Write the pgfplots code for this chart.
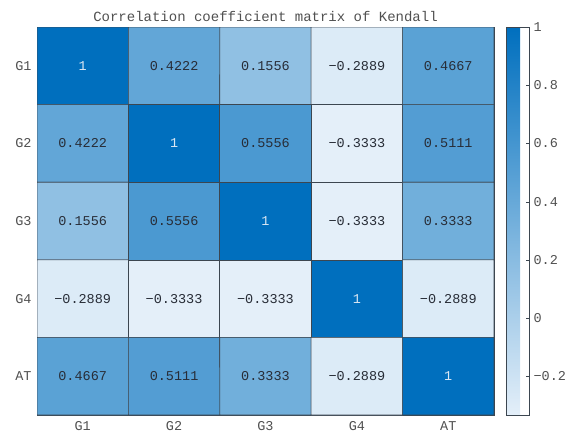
\documentclass[border=0pt]{standalone}
\usepackage{pgfplots}
\pgfplotsset{compat=1.18}
\usepackage{fontspec}
\setmainfont{Liberation Mono}
\definecolor{tickgrey}{RGB}{80,80,80}
\definecolor{cellborder}{RGB}{60,70,80}
\newcommand{\tlfont}{\fontsize{13.5}{15}\selectfont}
\begin{document}
\begin{tikzpicture}[x=1pt,y=1pt]
\useasboundingbox (0,0) rectangle (570,441);
\begin{axis}[
  at={(37pt,26pt)}, anchor=south west,
  scale only axis, width=457pt, height=388pt,
  xmin=-0.5, xmax=4.5, ymin=-0.5, ymax=4.5,
  y dir=reverse,
  xtick={0,1,2,3,4}, ytick={0,1,2,3,4},
  xticklabels={\tlfont G1,\tlfont G2,\tlfont G3,\tlfont G4,\tlfont AT},
  yticklabels={\tlfont G1,\tlfont G2,\tlfont G3,\tlfont G4,\tlfont AT},
  major tick length=0pt,
  xticklabel style={yshift=-3pt, text=tickgrey},
  yticklabel style={xshift=-2pt, text=tickgrey},
  axis line style={cellborder},
  colormap={blues}{rgb255=(228,239,249) rgb255=(0,111,190)},
  point meta min=-0.3333, point meta max=1,
  title={Correlation coefficient matrix of Kendall},
  title style={font=\fontsize{14}{16}\selectfont, text=tickgrey, yshift=-4pt},
  colorbar,
  colorbar style={
    at={(1.0263,1)}, anchor=north west,
    scale only axis, width=23pt, height=388pt,
    ymin=-0.3333, ymax=1,
    ytick={-0.2,0,0.2,0.4,0.6,0.8,1},
    yticklabels={\tlfont −0.2,\tlfont 0,\tlfont 0.2,\tlfont 0.4,\tlfont 0.6,\tlfont 0.8,\tlfont 1},
    ytick pos=right, yticklabel pos=right,
    tick align=inside, major tick length=3pt,
    ytick style={cellborder},
    axis line style={cellborder},
    yticklabel style={text=tickgrey, xshift=1pt},
  },
]
\addplot[matrix plot*, mesh/cols=5, point meta=explicit, draw=cellborder, line width=0.6pt]
  table[x=x, y=y, meta=c] {
x y c
0 0 1
1 0 0.4222
2 0 0.1556
3 0 -0.2889
4 0 0.4667
0 1 0.4222
1 1 1
2 1 0.5556
3 1 -0.3333
4 1 0.5111
0 2 0.1556
1 2 0.5556
2 2 1
3 2 -0.3333
4 2 0.3333
0 3 -0.2889
1 3 -0.3333
2 3 -0.3333
3 3 1
4 3 -0.2889
0 4 0.4667
1 4 0.5111
2 4 0.3333
3 4 -0.2889
4 4 1
};
\addplot[only marks, mark=none, point meta=explicit symbolic,
  nodes near coords, every node near coord/.append style={anchor=center, font=\fontsize{13.5}{15}\selectfont, text={rgb,255:red,40;green,45;blue,55}}]
  table[x=x, y=y, meta=t] {
x y t
1 0 0.4222
2 0 0.1556
3 0 −0.2889
4 0 0.4667
0 1 0.4222
2 1 0.5556
3 1 −0.3333
4 1 0.5111
0 2 0.1556
1 2 0.5556
3 2 −0.3333
4 2 0.3333
0 3 −0.2889
1 3 −0.3333
2 3 −0.3333
4 3 −0.2889
0 4 0.4667
1 4 0.5111
2 4 0.3333
3 4 −0.2889
};
\addplot[only marks, mark=none, point meta=explicit symbolic,
  nodes near coords, every node near coord/.append style={anchor=center, font=\fontsize{13.5}{15}\selectfont, text={rgb,255:red,220;green,232;blue,244}}]
  table[x=x, y=y, meta=t] {
x y t
0 0 1
1 1 1
2 2 1
3 3 1
4 4 1
};
\end{axis}
\end{tikzpicture}
\end{document}
